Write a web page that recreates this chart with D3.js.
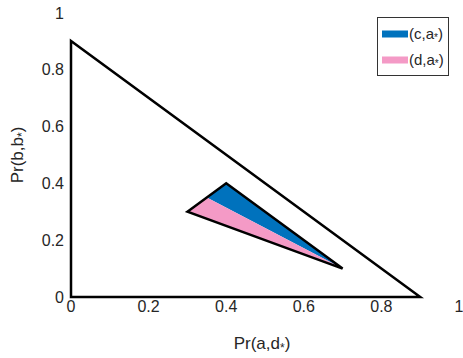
<!DOCTYPE html>
<html>
<head>
<meta charset="utf-8">
<script src="https://cdn.jsdelivr.net/npm/d3@7"></script>
<style>
  body { margin: 0; background: #fff; }
  text { font-family: "Liberation Sans", Arial, sans-serif; fill: #262626; }
</style>
</head>
<body>
<div id="chart"></div>
<script>
var width = 463;
var height = 358;

// data
var outerTriangle = [[0, 0], [0.9, 0], [0, 0.9]];
var regionC = [[0.35, 0.35], [0.4, 0.4], [0.7, 0.1]];
var regionD = [[0.3, 0.3], [0.35, 0.35], [0.7, 0.1]];
var innerTriangle = [[0.3, 0.3], [0.4, 0.4], [0.7, 0.1]];
var xTicks = [0, 0.2, 0.4, 0.6, 0.8, 1];
var yTicks = [0, 0.2, 0.4, 0.6, 0.8, 1];
var seriesNames = ["c", "d"];
var seriesColors = ["#0072bd", "#f49ac6"];

var x = d3.scaleLinear().domain([0, 1]).range([71, 459]);
var y = d3.scaleLinear().domain([0, 1]).range([297, 12.6]);

var svg = d3.select("#chart")
    .append("svg")
    .attr("width", width)
    .attr("height", height);

var line = d3.line()
    .x(function (d) { return x(d[0]); })
    .y(function (d) { return y(d[1]); })
    .curve(d3.curveLinearClosed);

// filled regions
svg.append("path").attr("d", line(regionC)).style("fill", seriesColors[0]);
svg.append("path").attr("d", line(regionD)).style("fill", seriesColors[1]);

svg.append("path")
    .attr("d", line(innerTriangle))
    .style("fill", "none")
    .style("stroke", "#000")
    .style("stroke-width", 2.5);

svg.append("path")
    .attr("d", line(outerTriangle))
    .style("fill", "none")
    .style("stroke", "#000")
    .style("stroke-width", 2.5);

// tick labels
svg.selectAll(".xt")
    .data(xTicks)
    .enter().append("text")
    .attr("x", function (d) { return x(d); })
    .attr("y", 312)
    .attr("text-anchor", "middle")
    .style("font-size", "16px")
    .text(function (d) { return d; });

svg.selectAll(".yt")
    .data(yTicks)
    .enter().append("text")
    .attr("x", 64)
    .attr("y", function (d) { return y(d) + 6; })
    .attr("text-anchor", "end")
    .style("font-size", "16px")
    .text(function (d) { return d; });

// axis labels
function subLabel(sel, pre, size) {
    sel.append("tspan").text(pre);
    sel.append("tspan").attr("dy", 3).style("font-size", size + "px").text("*");
    sel.append("tspan").attr("dy", -3).text(")");
}

var xl = svg.append("text")
    .attr("x", 262)
    .attr("y", 349)
    .attr("text-anchor", "middle")
    .style("font-size", "17px");
subLabel(xl, "Pr(a,d", 12);

var yl = svg.append("text")
    .attr("transform", "translate(23,155) rotate(-90)")
    .attr("text-anchor", "middle")
    .style("font-size", "17px");
subLabel(yl, "Pr(b,b", 12);

// legend
var legend = svg.append("g");
legend.append("rect")
    .attr("x", 377.5)
    .attr("y", 17.5)
    .attr("width", 71)
    .attr("height", 58)
    .style("fill", "#fff")
    .style("stroke", "#333")
    .style("stroke-width", 1);

seriesNames.forEach(function (name, i) {
    var cy = 34 + i * 26;
    legend.append("rect")
        .attr("x", 382)
        .attr("y", cy - 3.5)
        .attr("width", 26)
        .attr("height", 7)
        .style("fill", seriesColors[i]);
    var t = legend.append("text")
        .attr("x", 409)
        .attr("y", cy + 5)
        .style("font-size", "15px");
    t.append("tspan").text("(" + name + ",a");
    t.append("tspan").attr("dy", 2).style("font-size", "10px").text("*");
    t.append("tspan").attr("dy", -2).text(")");
});
</script>
</body>
</html>
